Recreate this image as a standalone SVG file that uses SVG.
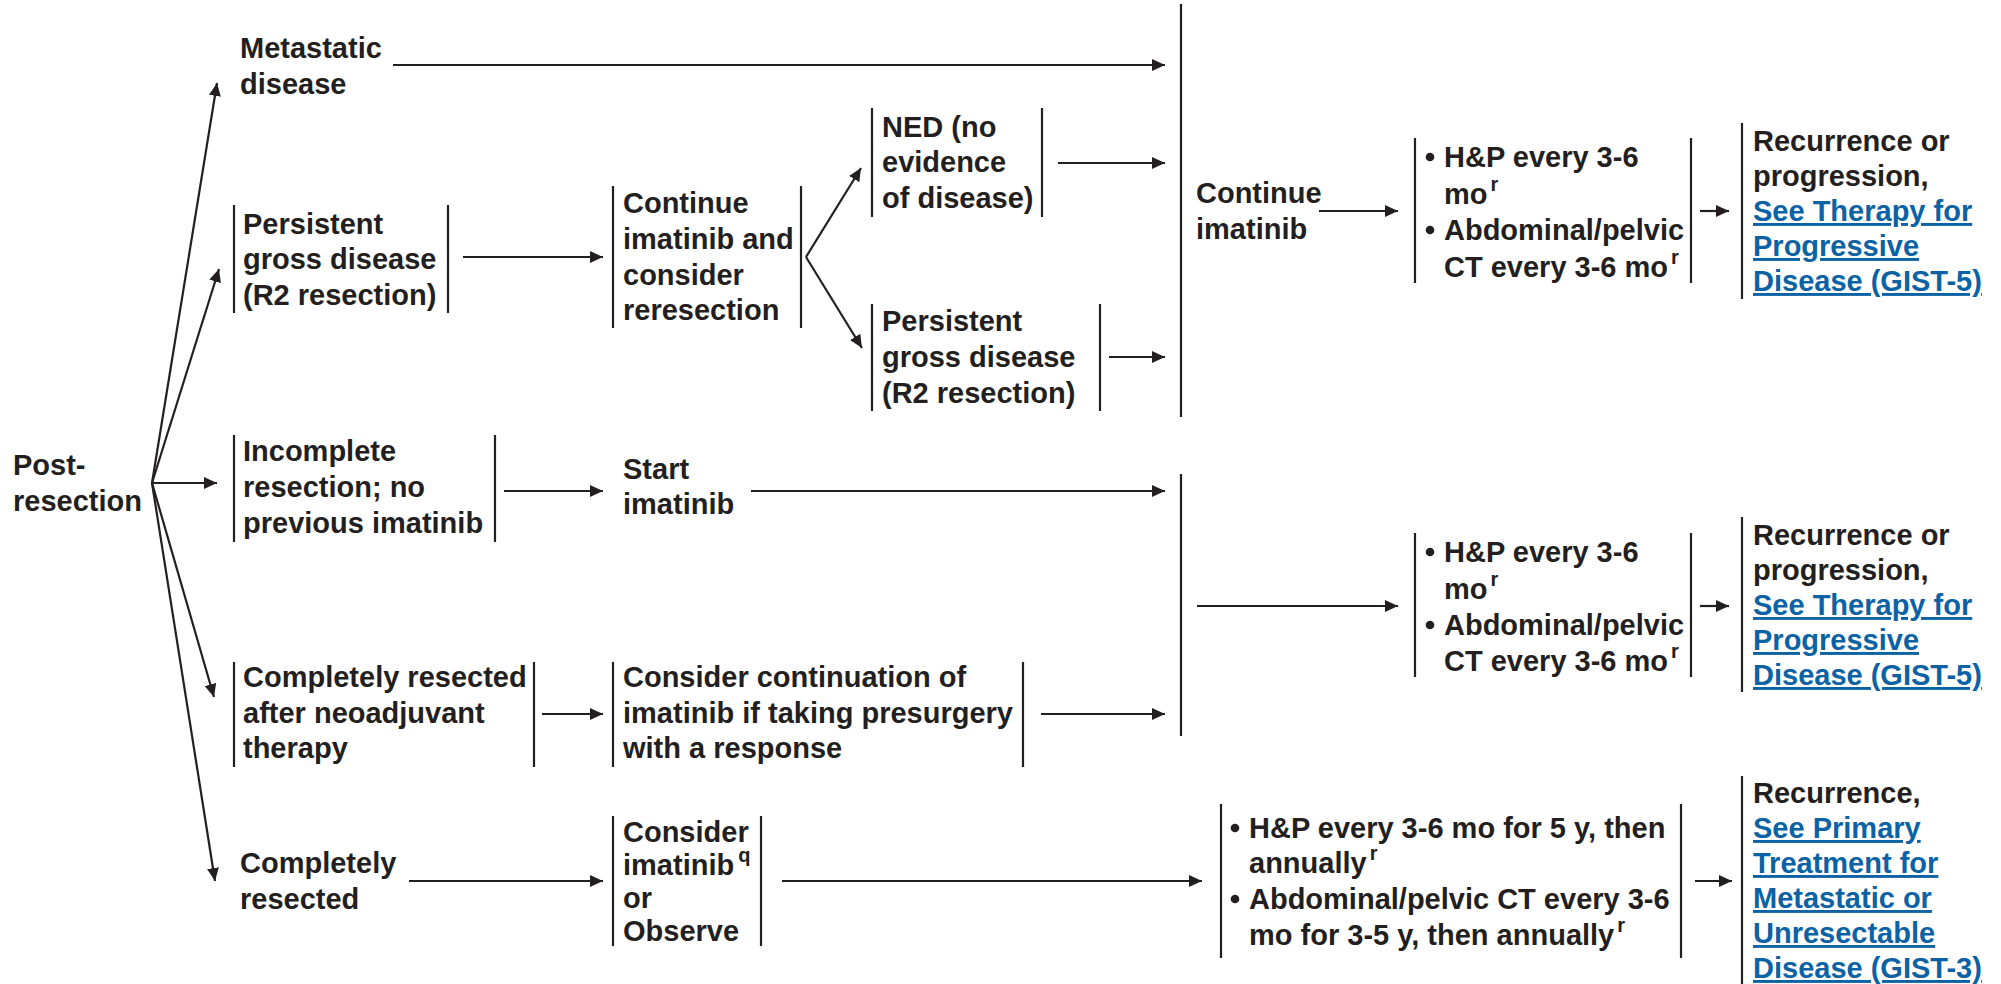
<svg xmlns="http://www.w3.org/2000/svg" width="2001" height="984" viewBox="0 0 2001 984">
<style>
text{font-family:"Liberation Sans",Arial,sans-serif;font-weight:bold;font-size:29px;fill:#231f20}
.lk{fill:#0b62a4;text-decoration:underline}
.sup{font-size:20px}
.bar{stroke:#231f20;stroke-width:2.2;fill:none}
.ar{stroke:#231f20;stroke-width:2.2;fill:none;marker-end:url(#ah)}
.bl{fill:#231f20}
</style>
<defs>
<marker id="ah" markerUnits="userSpaceOnUse" markerWidth="13" markerHeight="12" refX="13" refY="6" orient="auto">
<path d="M0,0 L13,6 L0,12 z" fill="#231f20"/>
</marker>
</defs>
<rect width="2001" height="984" fill="#fff"/>

<g id="connectors">
<line class="ar" x1="152" y1="483" x2="217" y2="83"/>
<line class="ar" x1="152" y1="483" x2="219" y2="269"/>
<line class="ar" x1="152" y1="483" x2="217" y2="483"/>
<line class="ar" x1="152" y1="483" x2="214" y2="697"/>
<line class="ar" x1="152" y1="483" x2="215" y2="881"/>
<line class="ar" x1="393" y1="65" x2="1165" y2="65"/>
<line class="ar" x1="463" y1="257" x2="603" y2="257"/>
<line class="ar" x1="806" y1="257" x2="861" y2="168"/>
<line class="ar" x1="806" y1="257" x2="862" y2="348"/>
<line class="ar" x1="1058" y1="163" x2="1165" y2="163"/>
<line class="ar" x1="1109" y1="357" x2="1165" y2="357"/>
<line class="ar" x1="1319" y1="211" x2="1398" y2="211"/>
<line class="ar" x1="1700" y1="211" x2="1729" y2="211"/>
<line class="ar" x1="504" y1="491" x2="603" y2="491"/>
<line class="ar" x1="751" y1="491" x2="1165" y2="491"/>
<line class="ar" x1="1197" y1="606" x2="1398" y2="606"/>
<line class="ar" x1="1700" y1="606" x2="1729" y2="606"/>
<line class="ar" x1="542" y1="714" x2="603" y2="714"/>
<line class="ar" x1="1041" y1="714" x2="1165" y2="714"/>
<line class="ar" x1="409" y1="881" x2="603" y2="881"/>
<line class="ar" x1="782" y1="881" x2="1202" y2="881"/>
<line class="ar" x1="1695" y1="881" x2="1732" y2="881"/>
</g>

<g id="post-resection">
<text x="13" y="475">Post-</text>
<text x="13" y="511">resection</text>
</g>

<g id="metastatic">
<text x="240" y="58">Metastatic</text>
<text x="240" y="94">disease</text>
</g>

<g id="persistent1">
<line class="bar" x1="234" y1="205" x2="234" y2="313"/>
<line class="bar" x1="448" y1="205" x2="448" y2="313"/>
<text x="243" y="234">Persistent</text>
<text x="243" y="269">gross disease</text>
<text x="243" y="305">(R2 resection)</text>
</g>

<g id="continue-reresection">
<line class="bar" x1="613" y1="186" x2="613" y2="328"/>
<line class="bar" x1="801" y1="186" x2="801" y2="328"/>
<text x="623" y="213">Continue</text>
<text x="623" y="249">imatinib and</text>
<text x="623" y="285">consider</text>
<text x="623" y="320">reresection</text>
</g>

<g id="ned">
<line class="bar" x1="872" y1="108" x2="872" y2="217"/>
<line class="bar" x1="1042" y1="108" x2="1042" y2="217"/>
<text x="882" y="137">NED (no</text>
<text x="882" y="172">evidence</text>
<text x="882" y="208">of disease)</text>
</g>

<g id="persistent2">
<line class="bar" x1="872" y1="304" x2="872" y2="411"/>
<line class="bar" x1="1100" y1="304" x2="1100" y2="411"/>
<text x="882" y="331">Persistent</text>
<text x="882" y="367">gross disease</text>
<text x="882" y="403">(R2 resection)</text>
</g>

<g id="continue-imatinib">
<line class="bar" x1="1181" y1="4" x2="1181" y2="417"/>
<text x="1196" y="203">Continue</text>
<text x="1196" y="239">imatinib</text>
</g>

<g id="followup1">
<line class="bar" x1="1415" y1="138" x2="1415" y2="283"/>
<line class="bar" x1="1691" y1="138" x2="1691" y2="283"/>
<circle class="bl" cx="1430" cy="157" r="4.3"/>
<text x="1444" y="167">H&amp;P every 3-6</text>
<text x="1444" y="204">mo<tspan class="sup" dx="3" dy="-13">r</tspan></text>
<circle class="bl" cx="1430" cy="230" r="4.3"/>
<text x="1444" y="240">Abdominal/pelvic</text>
<text x="1444" y="277">CT every 3-6 mo<tspan class="sup" dx="3" dy="-13">r</tspan></text>
</g>

<g id="result1">
<line class="bar" x1="1742" y1="123" x2="1742" y2="299"/>
<text x="1753" y="151">Recurrence or</text>
<text x="1753" y="186">progression,</text>
<text class="lk" x="1753" y="221">See Therapy for</text>
<text class="lk" x="1753" y="256">Progressive</text>
<text class="lk" x="1753" y="291">Disease (GIST-5)</text>
</g>

<g id="incomplete">
<line class="bar" x1="234" y1="435" x2="234" y2="542"/>
<line class="bar" x1="495" y1="435" x2="495" y2="542"/>
<text x="243" y="461">Incomplete</text>
<text x="243" y="497">resection; no</text>
<text x="243" y="533">previous imatinib</text>
</g>

<g id="start-imatinib">
<text x="623" y="479">Start</text>
<text x="623" y="514">imatinib</text>
</g>

<g id="merge2">
<line class="bar" x1="1181" y1="474" x2="1181" y2="736"/>
</g>

<g id="followup2">
<line class="bar" x1="1415" y1="533" x2="1415" y2="677"/>
<line class="bar" x1="1691" y1="533" x2="1691" y2="677"/>
<circle class="bl" cx="1430" cy="552" r="4.3"/>
<text x="1444" y="562">H&amp;P every 3-6</text>
<text x="1444" y="599">mo<tspan class="sup" dx="3" dy="-13">r</tspan></text>
<circle class="bl" cx="1430" cy="625" r="4.3"/>
<text x="1444" y="635">Abdominal/pelvic</text>
<text x="1444" y="671">CT every 3-6 mo<tspan class="sup" dx="3" dy="-13">r</tspan></text>
</g>

<g id="result2">
<line class="bar" x1="1742" y1="517" x2="1742" y2="692"/>
<text x="1753" y="545">Recurrence or</text>
<text x="1753" y="580">progression,</text>
<text class="lk" x="1753" y="615">See Therapy for</text>
<text class="lk" x="1753" y="650">Progressive</text>
<text class="lk" x="1753" y="685">Disease (GIST-5)</text>
</g>

<g id="neoadjuvant">
<line class="bar" x1="234" y1="662" x2="234" y2="767"/>
<line class="bar" x1="534" y1="662" x2="534" y2="767"/>
<text x="243" y="687">Completely resected</text>
<text x="243" y="723">after neoadjuvant</text>
<text x="243" y="758">therapy</text>
</g>

<g id="continuation">
<line class="bar" x1="613" y1="662" x2="613" y2="767"/>
<line class="bar" x1="1023" y1="662" x2="1023" y2="767"/>
<text x="623" y="687">Consider continuation of</text>
<text x="623" y="723">imatinib if taking presurgery</text>
<text x="623" y="758">with a response</text>
</g>

<g id="completely-resected">
<text x="240" y="873">Completely</text>
<text x="240" y="909">resected</text>
</g>

<g id="consider-observe">
<line class="bar" x1="613" y1="816" x2="613" y2="946"/>
<line class="bar" x1="761" y1="816" x2="761" y2="946"/>
<text x="623" y="842">Consider</text>
<text x="623" y="875">imatinib<tspan class="sup" dx="4" dy="-13">q</tspan></text>
<text x="623" y="908">or</text>
<text x="623" y="941">Observe</text>
</g>

<g id="followup3">
<line class="bar" x1="1221" y1="804" x2="1221" y2="958"/>
<line class="bar" x1="1681" y1="804" x2="1681" y2="958"/>
<circle class="bl" cx="1235" cy="828" r="4.3"/>
<text x="1249" y="838">H&amp;P every 3-6 mo for 5 y, then</text>
<text x="1249" y="873">annually<tspan class="sup" dx="3" dy="-13">r</tspan></text>
<circle class="bl" cx="1235" cy="899" r="4.3"/>
<text x="1249" y="909">Abdominal/pelvic CT every 3-6</text>
<text x="1249" y="945">mo for 3-5 y, then annually<tspan class="sup" dx="3" dy="-13">r</tspan></text>
</g>

<g id="result3">
<line class="bar" x1="1742" y1="776" x2="1742" y2="984"/>
<text x="1753" y="803">Recurrence,</text>
<text class="lk" x="1753" y="838">See Primary</text>
<text class="lk" x="1753" y="873">Treatment for</text>
<text class="lk" x="1753" y="908">Metastatic or</text>
<text class="lk" x="1753" y="943">Unresectable</text>
<text class="lk" x="1753" y="978">Disease (GIST-3)</text>
</g>
</svg>
